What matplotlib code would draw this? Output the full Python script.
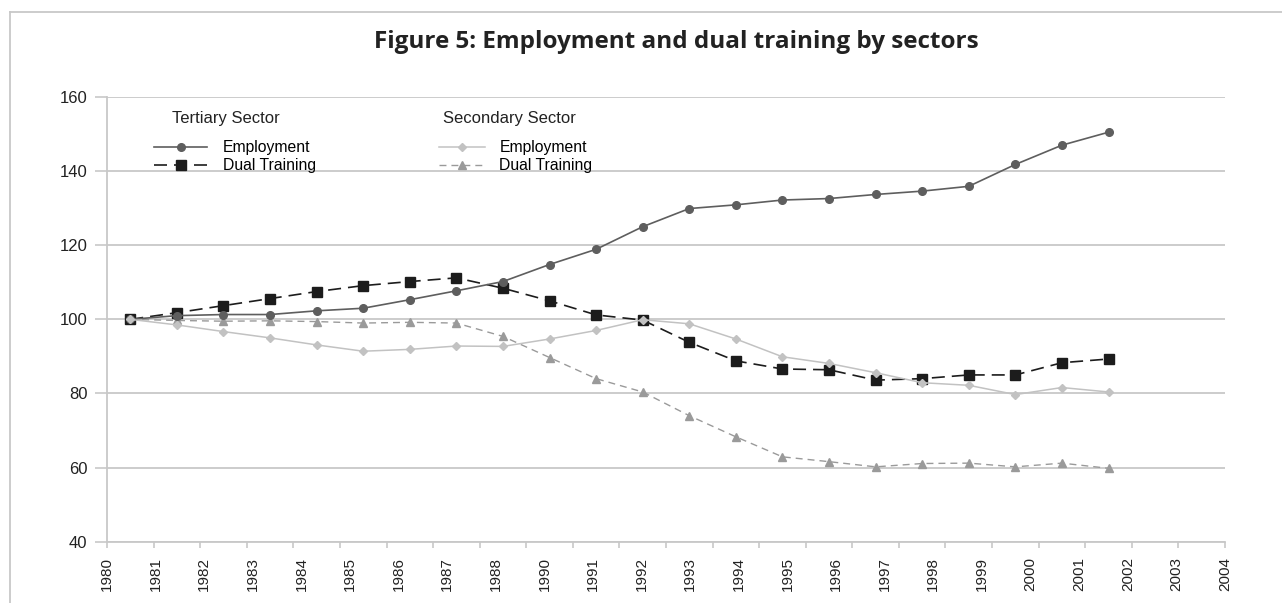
import numpy as np
import matplotlib
matplotlib.use("Agg")
import matplotlib.pyplot as plt
from matplotlib.lines import Line2D

# ---- data ----
years = ['1980', '1981', '1982', '1983', '1984', '1985', '1986', '1987', '1988',
         '1990', '1991', '1992', '1993', '1994', '1995', '1996', '1997', '1998',
         '1999', '2000', '2001', '2002', '2003', '2004']
tert_emp = [100, 101.0, 101.3, 101.3, 102.3, 103.0, 105.3, 107.7, 110.2, 114.8, 118.9,
            125.0, 129.9, 130.9, 132.2, 132.6, 133.7, 134.6, 135.9, 141.8, 147.0, 150.5]
tert_dual = [100, 101.8, 103.7, 105.6, 107.5, 109.1, 110.2, 111.2, 108.4, 105.0, 101.2,
             99.8, 93.8, 88.8, 86.6, 86.4, 83.6, 84.0, 85.0, 85.0, 88.3, 89.3]
sec_emp = [100, 98.5, 96.7, 95.0, 93.1, 91.4, 91.9, 92.8, 92.7, 94.7, 97.0,
           99.9, 98.8, 94.7, 89.9, 88.1, 85.6, 82.9, 82.2, 79.7, 81.6, 80.4]
sec_dual = [100, 99.7, 99.5, 99.6, 99.4, 99.0, 99.2, 99.0, 95.4, 89.7, 84.0,
            80.4, 74.0, 68.3, 62.9, 61.6, 60.2, 61.1, 61.2, 60.2, 61.2, 59.8]
n_slots = 24
yticks = [40, 60, 80, 100, 120, 140, 160]

# ---- style ----
FONT = 'Liberation Sans'
plt.rcParams['font.family'] = [FONT, 'DejaVu Sans']
GRID = '#c8c8c8'
TXT = '#222222'
c_te = '#5e5e5e'
c_td = '#1c1c1c'
c_se = '#c2c2c2'
c_sd = '#9a9a9a'

W, H = 1282, 603
fig = plt.figure(figsize=(W / 100, H / 100), dpi=100)
L, R, T, B = 107, 1225, 97, 541.7
ax = fig.add_axes([L / W, 1 - B / H, (R - L) / W, (B - T) / H])

def ax_fx(px):
    return (px - L) / (R - L)

def ax_fy(py):
    return (B - py) / (B - T)

x = np.arange(len(tert_emp)) + 0.5

ax.plot(x, sec_dual, color=c_sd, lw=1.0, ls=(0, (5, 3.6)), marker='^', ms=6,
        mfc=c_sd, mec=c_sd, zorder=3)
ax.plot(x, tert_dual, color=c_td, lw=1.2, ls=(0, (7.8, 4.2)), marker='s', ms=7,
        mfc=c_td, mec=c_td, zorder=4)
ax.plot(x, tert_emp, color=c_te, lw=1.2, marker='o', ms=5.5,
        mfc=c_te, mec=c_te, zorder=5)
ax.plot(x, sec_emp, color=c_se, lw=1.1, marker='D', ms=4,
        mfc=c_se, mec=c_se, zorder=6)

ax.set_xlim(0, n_slots)
ax.set_ylim(40, 160)
ax.set_yticks(yticks)
ax.set_yticklabels([str(v) for v in yticks], fontsize=12, color=TXT)
ax.yaxis.grid(True, color=GRID, lw=1.3, zorder=0)
ax.set_axisbelow(True)

ax.xaxis.remove_overlapping_locs = False
ax.set_xticks(np.arange(n_slots + 1))
ax.set_xticklabels([])
ax.set_xticks(np.linspace(0, n_slots, len(years)), labels=years, minor=True)
ax.tick_params(axis='x', which='major', length=4.5, width=1.2, color=GRID)
ax.tick_params(axis='x', which='minor', length=0, pad=11, labelrotation=90,
               labelsize=11, labelcolor=TXT)
ax.tick_params(axis='y', length=9, width=1.2, color=GRID, pad=5)

for s in ['top', 'right']:
    ax.spines[s].set_visible(False)
for s in ['left', 'bottom']:
    ax.spines[s].set_color(GRID)
    ax.spines[s].set_linewidth(1.3)

# ---- legends ----
h_te = Line2D([], [], color=c_te, lw=1.2, marker='o', ms=5.5)
h_td = Line2D([], [], color=c_td, lw=1.2, ls=(0, (7.8, 4.2)), marker='s', ms=7)
h_se = Line2D([], [], color=c_se, lw=1.1, marker='D', ms=4)
h_sd = Line2D([], [], color=c_sd, lw=1.0, ls=(0, (5, 3.6)), marker='^', ms=6)

common = dict(loc='upper left', frameon=False, borderpad=0, borderaxespad=0,
              labelspacing=0.22, prop={'family': FONT, 'size': 11.3})
leg1 = ax.legend([h_te, h_td], ['Employment', 'Dual Training'],
                 bbox_to_anchor=(ax_fx(154), ax_fy(140)),
                 handlelength=3.4, handletextpad=1.0, **common)
ax.add_artist(leg1)
leg2 = ax.legend([h_se, h_sd], ['Employment', 'Dual Training'],
                 bbox_to_anchor=(ax_fx(439), ax_fy(140)),
                 handlelength=2.95, handletextpad=0.9, **common)

ax.text(ax_fx(226), ax_fy(118), 'Tertiary Sector', transform=ax.transAxes,
        ha='center', va='center', fontsize=12, color=TXT)
ax.text(ax_fx(509), ax_fy(118), 'Secondary Sector', transform=ax.transAxes,
        ha='center', va='center', fontsize=12, color=TXT)

# ---- title and frame ----
fig.text(676 / W, 1 - 42 / H, 'Figure 5: Employment and dual training by sectors',
         ha='center', va='center', fontsize=17.5, fontweight='bold',
         family='Open Sans', color=TXT)
fig.add_artist(Line2D([10 / W, 1.0], [1 - 12 / H, 1 - 12 / H],
                      transform=fig.transFigure, color=GRID, lw=1.3))
fig.add_artist(Line2D([10 / W, 10 / W], [0.0, 1 - 12 / H],
                      transform=fig.transFigure, color=GRID, lw=1.3))

fig.savefig('out.png', dpi=100)
